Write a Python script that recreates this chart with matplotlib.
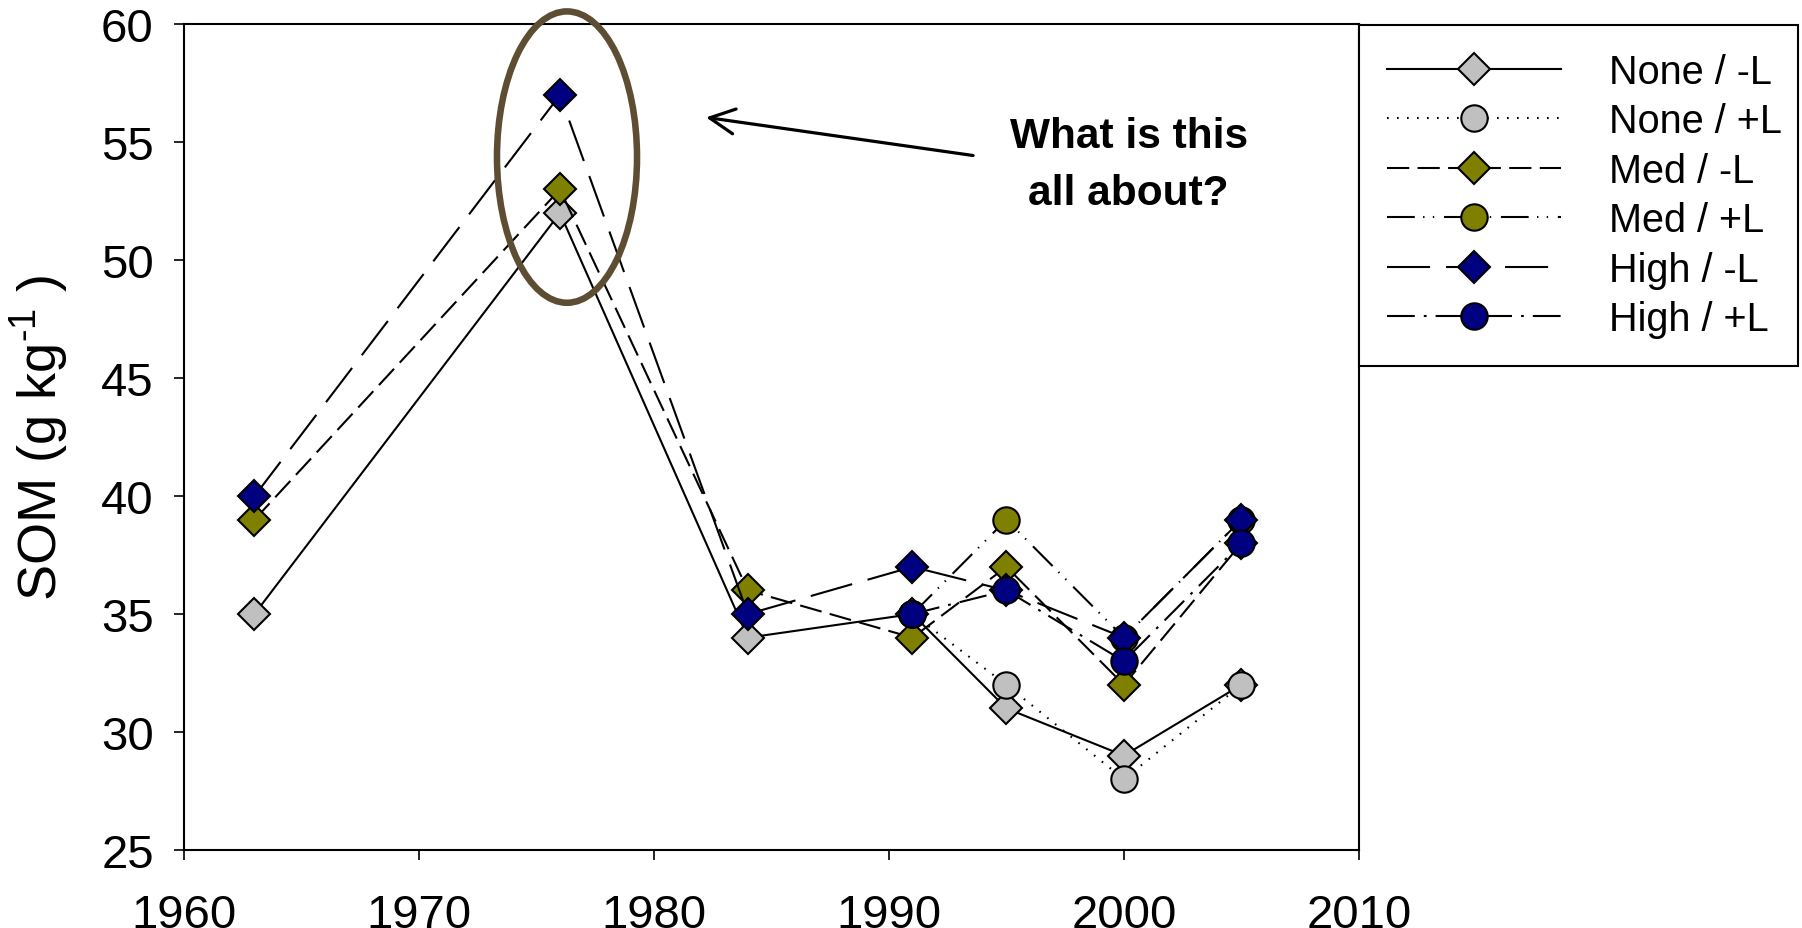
import matplotlib
matplotlib.use("Agg")
import matplotlib.pyplot as plt
from matplotlib.patches import Ellipse

plt.rcParams['font.family'] = ['Liberation Sans', 'DejaVu Sans']
plt.rcParams['mathtext.fontset'] = 'custom'
plt.rcParams['mathtext.rm'] = 'Liberation Sans'
plt.rcParams['mathtext.it'] = 'Liberation Sans:italic'
plt.rcParams['mathtext.bf'] = 'Liberation Sans:bold'
plt.rcParams['lines.scale_dashes'] = False

# sampling years
years_all = [1963, 1976, 1984, 1991, 1995, 2000, 2005]
years_lime = [1991, 1995, 2000, 2005]

# SOM (g/kg) per treatment
none_noL = [35, 52, 34, 35, 31, 29, 32]
none_L = [35, 32, 28, 32]
med_noL = [39, 53, 36, 34, 37, 32, 38]
med_L = [35, 39, 34, 39]
high_noL = [40, 57, 35, 37, 36, 34, 39]
high_L = [35, 36, 33, 38]

labels = ['None / -L', 'None / +L', 'Med / -L', 'Med / +L', 'High / -L', 'High / +L']

gray = '#c0c0c0'
olive = '#808000'
navy = '#000080'

series = [
    (years_all, none_noL, gray, 'D', '-'),
    (years_lime, none_L, gray, 'o', (0, (1.2, 6))),
    (years_all, med_noL, olive, 'D', (0, (16, 6))),
    (years_lime, med_L, olive, 'o', (0, (20, 6, 1, 6, 1, 7))),
    (years_all, high_noL, navy, 'D', (0, (31, 11.5))),
    (years_lime, high_L, navy, 'o', (0, (20, 6.5, 2, 6.5))),
]

fig = plt.figure(figsize=(18.02, 9.29), dpi=100)
ax = fig.add_axes([0.1021, 0.0840, 0.6520, 0.8888])

for (x, y, col, mk, ls), lab in zip(series, labels):
    ms = 15.8 if mk == 'D' else 19
    ax.plot(x, y, color='black', lw=1.5, linestyle=ls, marker=mk, ms=ms,
            markerfacecolor=col, markeredgecolor='black', markeredgewidth=1.5,
            label=lab, clip_on=False)

ax.set_xlim(1960, 2010)
ax.set_ylim(25, 60)
ax.set_xticks(range(1960, 2011, 10))
ax.set_yticks(range(25, 61, 5))
ax.tick_params(axis='both', direction='out', length=7.2, width=1.2, labelsize=34)
ax.tick_params(axis='x', pad=23.5)
ax.tick_params(axis='y', pad=14.5)
for sp in ax.spines.values():
    sp.set_linewidth(1.5)

ax.set_ylabel(r'SOM (g kg$^{\text{-}1}$ )', fontsize=39)
ax.yaxis.set_label_coords(-0.096, 0.5)

# circle around the 1976 peak
ax.add_patch(Ellipse((1976.3, 54.37), 5.96, 12.35, fill=False,
                     edgecolor='#5c4d33', lw=4.7, clip_on=False, zorder=5))

ax.annotate('', xy=(1982.1, 56.07), xytext=(1993.7, 54.42),
            arrowprops=dict(arrowstyle='->, head_length=0.9, head_width=0.45',
                            mutation_scale=20, color='black', lw=2.3))
note = ['What is this', 'all about?']
for txt, yb in zip(note, [54.80, 52.38]):
    ax.text(2000.2, yb, txt, ha='center', va='baseline', fontsize=30.5,
            fontweight='bold')

leg = ax.legend(loc='upper left', bbox_to_anchor=(0.7542, 0.611, 0.2436, 0.361),
                bbox_transform=fig.transFigure, mode='expand', borderaxespad=0,
                fontsize=28.5, numpoints=1, handlelength=4.4, handletextpad=1.21,
                labelspacing=0.29, borderpad=0.7, fancybox=False,
                framealpha=1, edgecolor='black')
leg.get_frame().set_linewidth(1.5)

fig.savefig('out.png', dpi=100)
